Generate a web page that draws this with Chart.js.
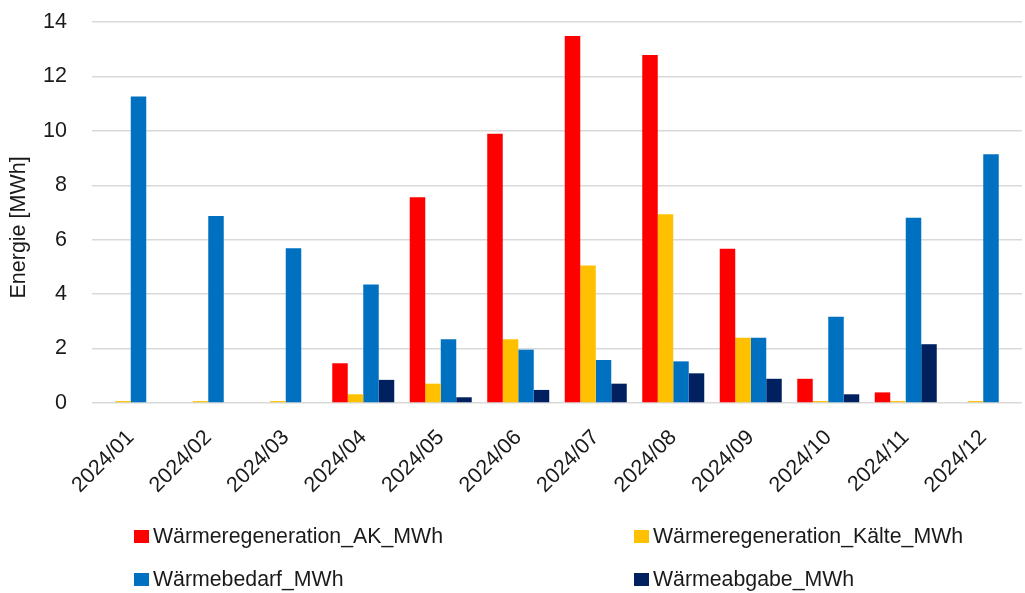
<!DOCTYPE html>
<html>
<head>
<meta charset="utf-8">
<script src="https://cdn.jsdelivr.net/npm/chart.js@4"></script>
<style>
  html, body { margin: 0; padding: 0; background: #fff; }
  #wrap { position: relative; width: 1025px; height: 593px; font-family: "Liberation Sans", Arial, sans-serif; }
  #legend { position: absolute; left: 0; top: 0; }
  .item { position: absolute; display: flex; align-items: center; height: 26px; font-size: 21.3px; color: #1a1a1a; white-space: nowrap; }
  .box { width: 15px; height: 13px; margin-right: 4px; }
</style>
</head>
<body>
<div id="wrap">
  <canvas id="chart" width="1025" height="593"></canvas>
  <div id="legend"></div>
</div>
<script>
const months = ["2024/01", "2024/02", "2024/03", "2024/04", "2024/05", "2024/06",
                "2024/07", "2024/08", "2024/09", "2024/10", "2024/11", "2024/12"];
const regenAK =    [0, 0, 0, 1.46, 7.56, 9.89, 13.49, 12.79, 5.67, 0.89, 0.39, 0];
const regenKaelte = [0.07, 0.07, 0.07, 0.32, 0.71, 2.34, 5.05, 6.94, 2.40, 0.07, 0.07, 0.07];
const bedarf =     [11.26, 6.87, 5.69, 4.35, 2.34, 1.96, 1.58, 1.53, 2.40, 3.17, 6.81, 9.14];
const abgabe =     [0, 0, 0, 0.85, 0.21, 0.48, 0.71, 1.09, 0.89, 0.32, 2.16, 0];

const series = [
  { label: "Wärmeregeneration_AK_MWh", data: regenAK, color: "#ff0000" },
  { label: "Wärmeregeneration_Kälte_MWh", data: regenKaelte, color: "#ffc000" },
  { label: "Wärmebedarf_MWh", data: bedarf, color: "#0070c0" },
  { label: "Wärmeabgabe_MWh", data: abgabe, color: "#002060" },
];

const font = { family: "'Liberation Sans', Arial, sans-serif", size: 21.5 };
const ink = "#1a1a1a";

new Chart(document.getElementById("chart"), {
  type: "bar",
  data: {
    labels: months,
    datasets: series.map((s) => ({
      label: s.label, data: s.data, backgroundColor: s.color, borderWidth: 0,
      categoryPercentage: 0.8, barPercentage: 1.0,
    })),
  },
  options: {
    responsive: false,
    animation: false,
    layout: { padding: { top: 22, right: 3, bottom: 90, left: 0 } },
    plugins: { legend: { display: false }, tooltip: { enabled: false } },
    scales: {
      x: {
        grid: { display: false },
        border: { display: false },
        ticks: { font, color: ink, minRotation: 45, maxRotation: 45, padding: 14 },
        afterFit: (s) => { s.height = 100; s.paddingTop = 0; s.paddingBottom = 0; },
      },
      y: {
        min: 0, max: 14,
        grid: { color: "#d9d9d9", lineWidth: 1.5, drawTicks: false },
        border: { display: false },
        ticks: { font, color: ink, stepSize: 2, padding: 25 },
        // trailing nbsp pushes the rotated title a bit lower, as in the original
        title: { display: true, text: "Energie [MWh]" + "\u00a0".repeat(5), font, color: ink, padding: { top: 6, bottom: 0 } },
        afterFit: (s) => { s.width = 92; s.paddingTop = 0; s.paddingBottom = 0; },
      },
    },
  },
});

// legend: 2 x 2 grid below the chart
const spots = [[134, 536], [634, 536], [134, 579], [634, 579]];
document.getElementById("legend").innerHTML = series.map((s, i) =>
  `<div class="item" style="left:${spots[i][0]}px;top:${spots[i][1] - 13}px">
     <span class="box" style="background:${s.color}"></span>${s.label}</div>`
).join("");
</script>
</body>
</html>
